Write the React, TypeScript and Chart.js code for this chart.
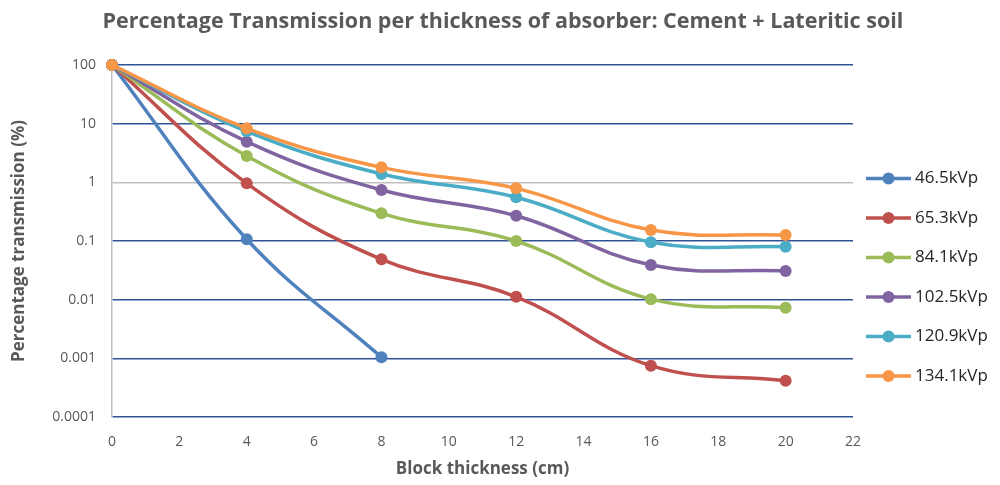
import React, { useEffect, useRef } from 'react';
import { Chart, registerables } from 'chart.js';

Chart.register(...registerables);

const TITLE = 'Percentage Transmission per thickness of absorber: Cement + Lateritic soil';
const X_TITLE = 'Block thickness (cm)';
const Y_TITLE = 'Percentage transmission (%)';

const thickness = [0, 4, 8, 12, 16, 20];
const seriesNames = ['46.5kVp', '65.3kVp', '84.1kVp', '102.5kVp', '120.9kVp', '134.1kVp'];
const s46 = [100, 0.107, 0.00104];
const s65 = [100, 0.96, 0.0488, 0.0112, 0.00075, 0.000416];
const s84 = [100, 2.81, 0.296, 0.1, 0.0102, 0.0073];
const s102 = [100, 4.93, 0.74, 0.27, 0.039, 0.0308];
const s120 = [100, 7.4, 1.39, 0.556, 0.095, 0.08];
const s134 = [100, 8.34, 1.8, 0.79, 0.154, 0.126];
const yTicks = [0.0001, 0.001, 0.01, 0.1, 1, 10, 100];
const xTicks = [0, 2, 4, 6, 8, 10, 12, 14, 16, 18, 20, 22];
const colors = ['#4F81BD', '#C0504D', '#9BBB59', '#8064A2', '#4BACC6', '#F79646'];

const FONT = '"Open Sans", "Noto Sans", sans-serif';

export default function App() {
  const ref = useRef<HTMLCanvasElement>(null);
  useEffect(() => {
    document.body.style.margin = '0';
    const allSeries = [s46, s65, s84, s102, s120, s134];
    const overlay = {
      id: 'overlay',
      afterDraw(chart: any) {
        const ctx = chart.ctx as CanvasRenderingContext2D;
        ctx.save();
        ctx.fillStyle = '#595959';
        ctx.font = `bold 21.5px ${FONT}`;
        ctx.textAlign = 'center';
        ctx.textBaseline = 'middle';
        ctx.fillText(TITLE, 503, 22);
        for (let i = 0; i < seriesNames.length; i++) {
          const y = 178.5 + i * 39.5;
          ctx.strokeStyle = colors[i];
          ctx.lineWidth = 3.5;
          ctx.beginPath();
          ctx.moveTo(866, y);
          ctx.lineTo(911, y);
          ctx.stroke();
          ctx.fillStyle = colors[i];
          ctx.beginPath();
          ctx.arc(888.5, y, 6, 0, Math.PI * 2);
          ctx.fill();
          ctx.fillStyle = '#262626';
          ctx.font = `17px ${FONT}`;
          ctx.textAlign = 'left';
          ctx.fillText(seriesNames[i], 915, y);
        }
        ctx.restore();
      },
    };
    const chart = new Chart(ref.current!, {
      type: 'line',
      data: {
        datasets: allSeries.map((vals, i) => ({
          label: seriesNames[i],
          data: vals.map((v, j) => ({ x: thickness[j], y: v })),
          borderColor: colors[i],
          backgroundColor: colors[i],
          pointBackgroundColor: colors[i],
          pointBorderColor: colors[i],
          pointRadius: 6,
          pointBorderWidth: 0,
          borderWidth: 3.5,
          tension: 0.4,
          fill: false,
          clip: false,
          order: 5 - i,
        })),
      },
      options: {
        animation: false,
        responsive: false,
        maintainAspectRatio: false,
        layout: { padding: { top: 65, right: 147, left: 0, bottom: 0 } },
        plugins: {
          legend: { display: false },
          tooltip: { enabled: false },
          title: { display: false },
        },
        scales: {
          x: {
            type: 'linear',
            min: 0,
            max: 22,
            afterBuildTicks: (s: any) => {
              s.ticks = xTicks.map((v) => ({ value: v }));
            },
            afterFit: (s: any) => {
              s.height = 68;
            },
            grid: { display: false, drawTicks: false },
            border: { display: false },
            ticks: {
              color: '#595959',
              font: { family: FONT, size: 14 },
              padding: 17,
              maxRotation: 0,
              autoSkip: false,
            },
            title: {
              display: true,
              text: X_TITLE,
              color: '#595959',
              font: { family: FONT, size: 17, weight: 'bold' },
              padding: { top: 0, bottom: 6 },
            },
          },
          y: {
            type: 'logarithmic',
            min: 0.0001,
            max: 100,
            afterBuildTicks: (s: any) => {
              s.ticks = yTicks.map((v) => ({ value: v }));
            },
            afterFit: (s: any) => {
              s.width = 112;
            },
            grid: {
              drawTicks: false,
              lineWidth: 1.5,
              color: (c: any) => (c.tick && c.tick.value === 1 ? '#BFBFBF' : '#2F5496'),
            },
            border: { display: true, color: '#BFBFBF', width: 1.5 },
            ticks: {
              color: '#595959',
              font: { family: FONT, size: 14 },
              padding: 16,
              autoSkip: false,
              callback: (v: any) => String(v),
            },
            title: {
              display: true,
              text: Y_TITLE,
              color: '#595959',
              font: { family: FONT, size: 17, weight: 'bold' },
              padding: { top: 9, bottom: 0 },
            },
          },
        },
      },
      plugins: [overlay],
    } as any);
    return () => chart.destroy();
  }, []);
  return (
    <canvas
      ref={ref}
      width={1000}
      height={485}
      style={{ display: 'block', width: 1000, height: 485 }}
    />
  );
}
